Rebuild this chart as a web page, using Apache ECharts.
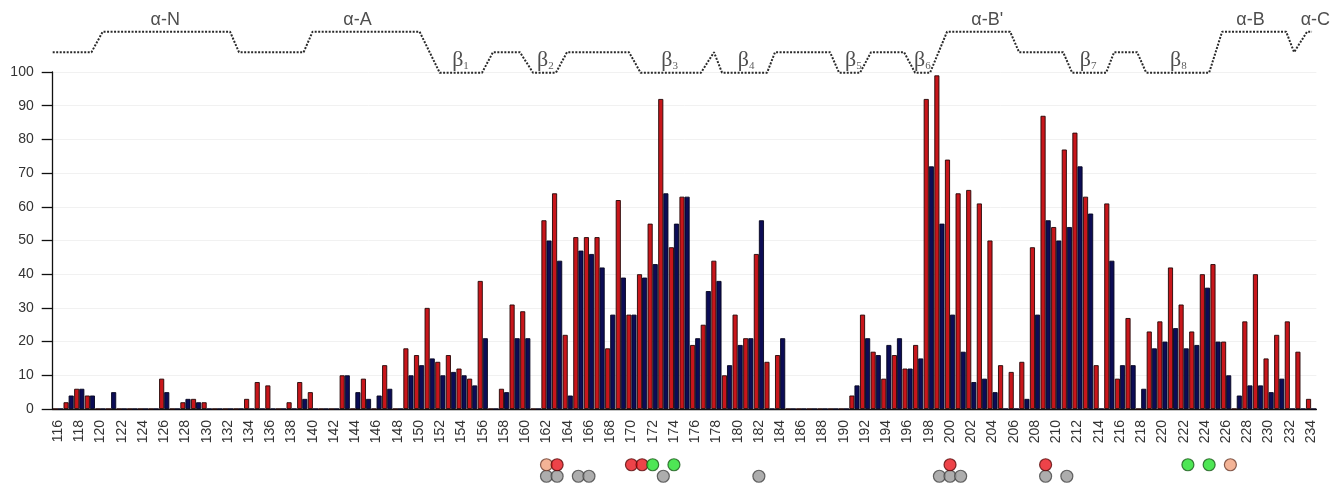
<!DOCTYPE html>
<html><head><meta charset="utf-8">
<script src="https://cdn.jsdelivr.net/npm/echarts@6/dist/echarts.min.js"></script>
<style>html,body{margin:0;padding:0;background:#fff}#c{width:1344px;height:484px}</style>
</head><body><div id="c"></div>
<script>
// residues 116..234
const residues = [];
for (let r = 116; r <= 234; r++) residues.push(String(r));

const redValues = [
  0,2,6,4,0,0,0,0,0,0,
  9,0,2,3,2,0,0,0,3,8,
  7,0,2,8,5,0,0,10,0,9,
  0,13,0,18,16,30,14,16,12,9,
  38,0,6,31,29,0,56,64,22,51,
  51,51,18,62,28,40,55,92,48,63,
  19,25,44,10,28,21,46,14,16,0,
  0,0,0,0,0,4,28,17,9,16,
  12,19,92,99,74,64,65,61,50,13,
  11,14,48,87,54,77,82,63,13,61,
  9,27,0,23,26,42,31,23,40,43,
  20,0,26,40,15,22,26,17,3
];
const navyValues = [
  0,4,6,4,0,5,0,0,0,0,
  5,0,3,2,0,0,0,0,0,0,
  0,0,0,3,0,0,0,10,5,3,
  4,6,0,10,13,15,10,11,10,7,
  21,0,5,21,21,0,50,44,4,47,
  46,42,28,39,28,39,43,64,55,63,
  21,35,38,13,19,21,56,0,21,0,
  0,0,0,0,0,7,21,16,19,21,
  12,15,72,55,28,17,8,9,5,0,
  0,3,28,56,50,54,72,58,0,44,
  13,13,6,18,20,24,18,19,36,20,
  10,4,7,7,5,9,0,0,0
];

// marker dots (residue positions) upper row by type, lower row gray
const dotsOrange = [162, 226.4];
const dotsRed = [163, 170, 171, 200, 209];
const dotsGreen = [172, 174, 222.4, 224.4];
const dotsGray = [162, 163, 165, 166, 173, 182, 199, 200, 201, 209, 211];

// secondary structure profile: residue coordinate and level (0 = strand, 1 = loop, 2 = helix)
const ssX = [115.5,119.15,120.21,132.2,133.04,139.13,139.97,150.05,151.94,155.93,156.96,159.5,160.73,162.89,163.93,169.77,170.86,176.55,177.77,178.53,182.77,183.52,188.7,189.55,191.53,192.56,195.67,196.71,198.12,199.72,205.66,206.5,210.65,211.5,214.7,215.45,217.62,218.47,224.4,225.62,231.65,232.4,233.62,234.09];
const ssLevel = [1,1,2,2,1,1,2,2,0,0,1,1,0,0,1,1,0,0,1,0,0,1,1,0,0,1,1,0,0,2,2,1,1,0,0,1,1,0,0,2,2,1,2,2];

const helixLabels = ['α-N','α-A',"α-B'",'α-B','α-C'];
const helixLabelX = [126.1,144.2,203.5,228.3,234.4];
const strandLabels = ['1','2','3','4','5','6','7','8'];
const strandLabelX = [153.9,161.9,173.6,180.8,190.9,197.4,213.0,221.5];

const chart = echarts.init(document.getElementById('c'), null, {renderer:'canvas'});
const L = 52.7, R = 27.6;
const FONT = 'Liberation Sans, Arial, sans-serif';
const SERIF = 'Liberation Serif, Times New Roman, serif';

const dotStyle = (c, b) => ({color:c, borderColor:b, borderWidth:1.2});

chart.setOption({
  animation:false,
  backgroundColor:'#fff',
  grid:[
    {left:L, right:R, top:72, height:337},
    {left:L, right:R, top:459, height:23},
    {left:L, right:R, top:11.2, height:61.5}
  ],
  xAxis:[
    {type:'category', gridIndex:0, data:residues, boundaryGap:true,
     axisLine:{lineStyle:{color:'#111', width:1.3}},
     axisTick:{interval:0, length:7, lineStyle:{color:'#111', width:1.3}},
     axisLabel:{interval:1, rotate:90, fontSize:14, color:'#333', margin:11, fontFamily:FONT},
     splitLine:{show:false}},
    {type:'value', gridIndex:1, min:115.5, max:234.5, show:false},
    {type:'value', gridIndex:2, min:115.5, max:234.5, show:false}
  ],
  yAxis:[
    {type:'value', gridIndex:0, min:0, max:100, interval:10,
     axisLine:{show:true, lineStyle:{color:'#111', width:1.3}},
     axisTick:{show:true, length:11, lineStyle:{color:'#111', width:1.3}},
     axisLabel:{fontSize:14, color:'#333', margin:19, fontFamily:FONT},
     splitLine:{show:true, lineStyle:{color:'#f1f1f1', width:1}}},
    {type:'category', gridIndex:1, data:['lower','upper'], show:false},
    {type:'value', gridIndex:2, min:0, max:3, show:false}
  ],
  series:[
    {type:'bar', name:'red', data:redValues, xAxisIndex:0, yAxisIndex:0,
     barGap:'0%', barCategoryGap:'4%',
     itemStyle:{color:'#c8161b', borderColor:'#240606', borderWidth:0.9}},
    {type:'bar', name:'navy', data:navyValues, xAxisIndex:0, yAxisIndex:0,
     barGap:'0%', barCategoryGap:'4%',
     itemStyle:{color:'#0c0c55', borderColor:'#04041f', borderWidth:0.9}},
    {type:'scatter', xAxisIndex:1, yAxisIndex:1, symbolSize:12,
     data:dotsGray.map(x=>[x,'lower']), itemStyle:dotStyle('#999999','#444')},
    {type:'scatter', xAxisIndex:1, yAxisIndex:1, symbolSize:12,
     data:dotsOrange.map(x=>[x,'upper']), itemStyle:dotStyle('#f0a07c','#6a3a2a')},
    {type:'scatter', xAxisIndex:1, yAxisIndex:1, symbolSize:12,
     data:dotsRed.map(x=>[x,'upper']), itemStyle:dotStyle('#e8141b','#5a0a0a')},
    {type:'scatter', xAxisIndex:1, yAxisIndex:1, symbolSize:12,
     data:dotsGreen.map(x=>[x,'upper']), itemStyle:dotStyle('#22e02a','#1a5a1a')},
    {type:'line', xAxisIndex:2, yAxisIndex:2, symbol:'none', clip:false,
     data:ssX.map((x,i)=>[x, ssLevel[i]]),
     lineStyle:{type:[2,1.5], width:2, color:'#2a2a2a'}},
    {type:'scatter', xAxisIndex:2, yAxisIndex:2, symbolSize:0, clip:false,
     data:helixLabelX.map((x,i)=>({value:[x,2.57], name:helixLabels[i]})),
     label:{show:true, position:'inside', formatter:'{b}', fontSize:18, color:'#222', fontFamily:FONT}},
    {type:'scatter', xAxisIndex:2, yAxisIndex:2, symbolSize:0, clip:false,
     data:strandLabelX.map((x,i)=>({value:[x,0.66], name:strandLabels[i]})),
     label:{show:true, position:'inside', formatter:p=>'{b|β}{s|'+p.name+'}',
       rich:{b:{fontSize:22, fontFamily:SERIF, color:'#222', lineHeight:24, verticalAlign:'bottom'},
             s:{fontSize:11, fontFamily:SERIF, color:'#333', verticalAlign:'bottom', lineHeight:20}}}}
  ]
});
</script></body></html>
